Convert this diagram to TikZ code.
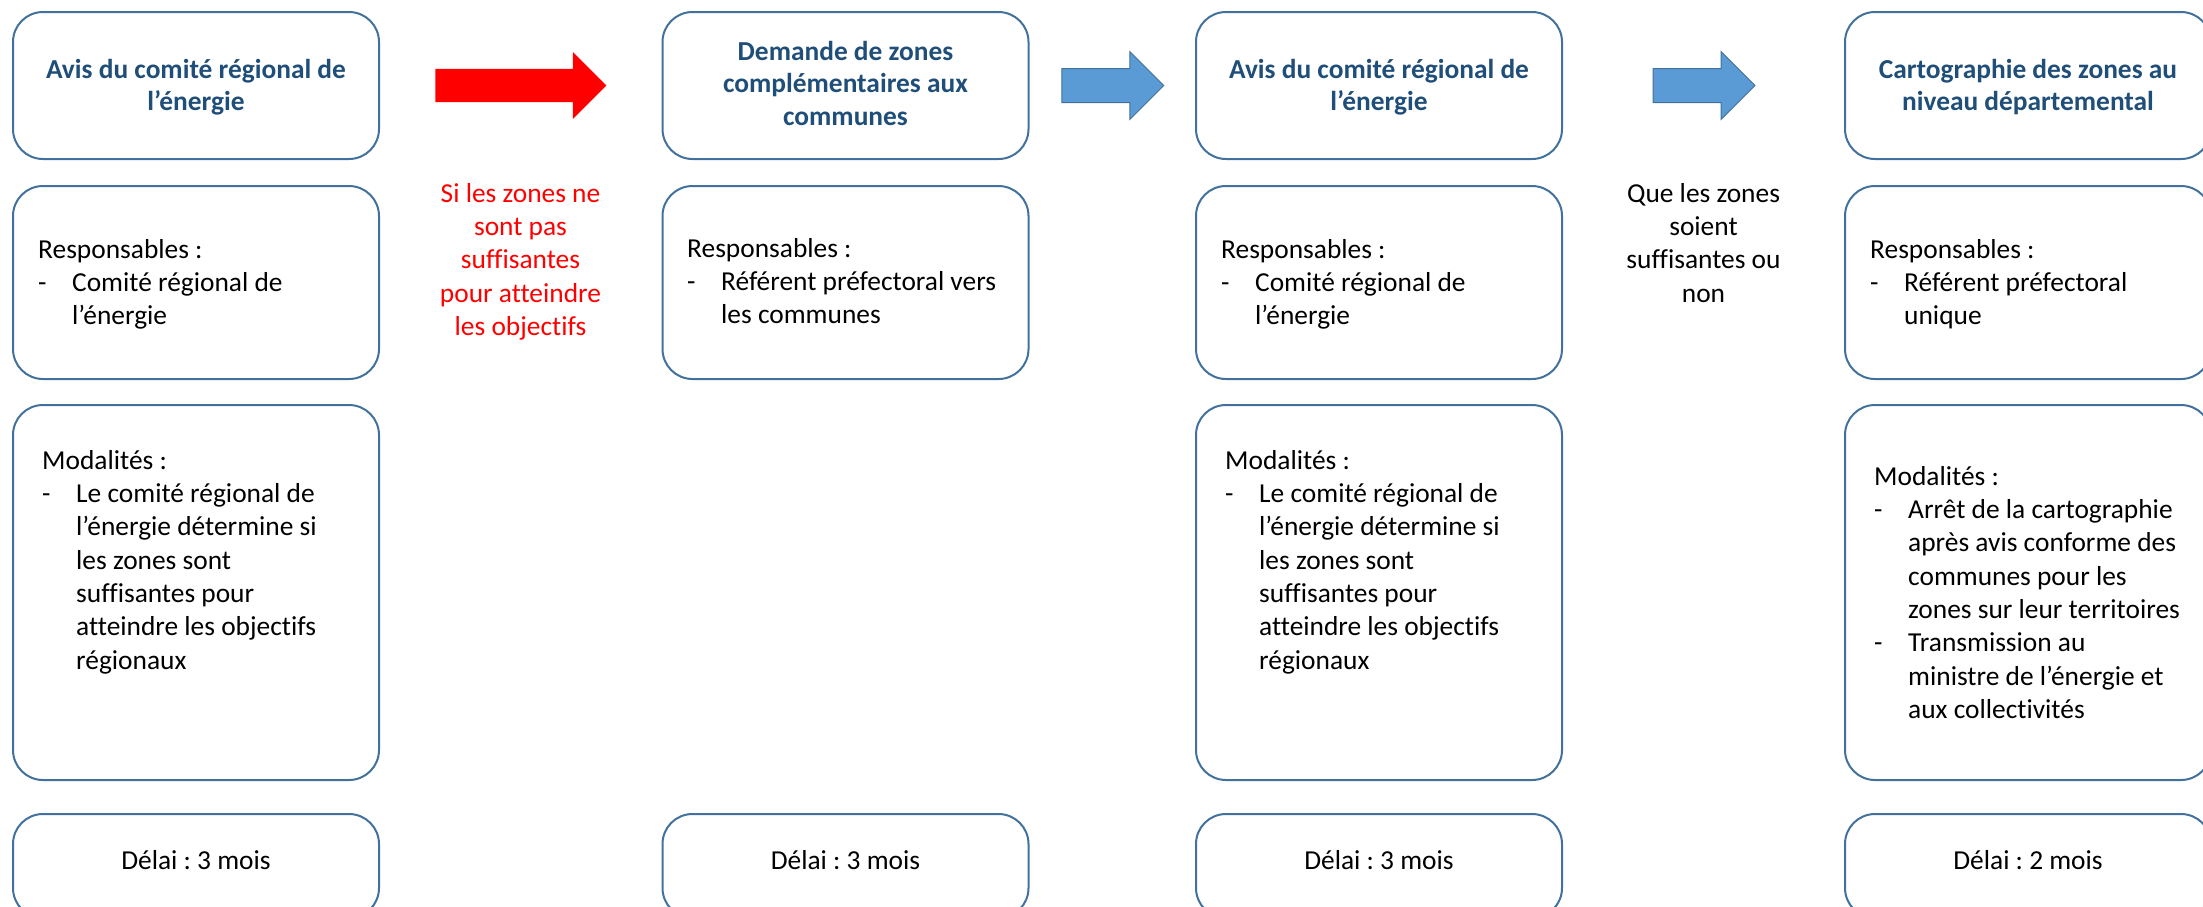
\documentclass[tikz,border=0pt]{standalone}
\usepackage{fontspec}
\setmainfont{Carlito}[Ligatures=NoCommon]
\usetikzlibrary{shapes.arrows,calc}
\frenchspacing

\definecolor{bordure}{HTML}{41719C}
\definecolor{titre}{HTML}{1F4E79}
\definecolor{flechebleue}{HTML}{5B9BD5}
\definecolor{rouge}{HTML}{FF0000}

\newcommand{\tiret}{\makebox[34pt][l]{-}}
\newcommand{\retrait}{\hspace*{34pt}}
\newcommand{\haut}{\rule{0pt}{21pt}}

\tikzset{
  cadre/.style={draw=bordure, line width=2pt, rounded corners=30pt, minimum width=366pt, inner sep=0pt},
  texte/.style={inner sep=0pt, font=\fontsize{27.4pt}{33.3pt}\selectfont, align=left, anchor=north west},
  centre/.style={texte, align=center, anchor=north},
  titrebloc/.style={centre, font=\bfseries\fontsize{27.4pt}{32.5pt}\selectfont, text=titre},
  fleche/.style={single arrow, inner xsep=0pt, inner ysep=16.5pt, single arrow head extend=17pt, anchor=tail}
}

\begin{document}
\begin{tikzpicture}[x=1pt,y=-1pt]
    \useasboundingbox (0,0) rectangle (2203,906);
    % colonne 1
    \node[cadre, minimum height=147pt] (titre1) at (196,85.5) {};
    \node[cadre, minimum height=193pt] (resp1) at (196,282.5) {};
    \node[cadre, minimum height=375pt] (moda1) at (196,592.5) {};
    \node[cadre, minimum height=104pt] (delai1) at (196,866) {};
    \node[titrebloc] (titre1txt) at (196,57) {\haut Avis du comité régional de\\ l’énergie};
    \node[texte] (resp1txt) at (38,237) {\haut Responsables :\\ \tiret Comité régional de\\ \retrait l’énergie};
    \node[texte] (moda1txt) at (42,448) {\haut Modalités :\\ \tiret Le comité régional de\\ \retrait l’énergie détermine si\\ \retrait les zones sont\\ \retrait suffisantes pour\\ \retrait atteindre les objectifs\\ \retrait régionaux};
    \node[centre] (delai1txt) at (196,848) {\haut Délai : 3 mois};
    % colonne 2
    \node[cadre, minimum height=147pt] (titre2) at (845.5,85.5) {};
    \node[cadre, minimum height=193pt] (resp2) at (845.5,282.5) {};
    \node[cadre, minimum height=104pt] (delai2) at (845.5,866) {};
    \node[titrebloc] (titre2txt) at (845.5,39) {\haut Demande de zones\\ complémentaires aux\\ communes};
    \node[texte] (resp2txt) at (687,236) {\haut Responsables :\\ \tiret Référent préfectoral vers\\ \retrait les communes};
    \node[centre] (delai2txt) at (845.5,848) {\haut Délai : 3 mois};
    % colonne 3
    \node[cadre, minimum height=147pt] (titre3) at (1379,85.5) {};
    \node[cadre, minimum height=193pt] (resp3) at (1379,282.5) {};
    \node[cadre, minimum height=375pt] (moda3) at (1379,592.5) {};
    \node[cadre, minimum height=104pt] (delai3) at (1379,866) {};
    \node[titrebloc] (titre3txt) at (1379,57) {\haut Avis du comité régional de\\ l’énergie};
    \node[texte] (resp3txt) at (1221,237) {\haut Responsables :\\ \tiret Comité régional de\\ \retrait l’énergie};
    \node[texte] (moda3txt) at (1225,448) {\haut Modalités :\\ \tiret Le comité régional de\\ \retrait l’énergie détermine si\\ \retrait les zones sont\\ \retrait suffisantes pour\\ \retrait atteindre les objectifs\\ \retrait régionaux};
    \node[centre] (delai3txt) at (1379,848) {\haut Délai : 3 mois};
    % colonne 4
    \node[cadre, minimum height=147pt] (titre4) at (2028,85.5) {};
    \node[cadre, minimum height=193pt] (resp4) at (2028,282.5) {};
    \node[cadre, minimum height=375pt] (moda4) at (2028,592.5) {};
    \node[cadre, minimum height=104pt] (delai4) at (2028,866) {};
    \node[titrebloc] (titre4txt) at (2028,57) {\haut Cartographie des zones au\\ niveau départemental};
    \node[texte] (resp4txt) at (1870,237) {\haut Responsables :\\ \tiret Référent préfectoral\\ \retrait unique};
    \node[texte] (moda4txt) at (1874,464) {\haut Modalités :\\ \tiret Arrêt de la cartographie\\ \retrait après avis conforme des\\ \retrait communes pour les\\ \retrait zones sur leur territoires\\ \tiret Transmission au\\ \retrait ministre de l’énergie et\\ \retrait aux collectivités};
    \node[centre] (delai4txt) at (2028,848) {\haut Délai : 2 mois};
    % fleches
    \node[fleche, fill=rouge, minimum height=171pt, xshift=-85.5pt] (fleche1) at ($(titre1.east)!0.5!(titre2.west)$) {};
    \node[fleche, fill=flechebleue, draw=bordure, line width=1pt, minimum height=102pt, xshift=-51pt] (fleche2) at ($(titre2.east)!0.5!(titre3.west)$) {};
    \node[fleche, fill=flechebleue, draw=bordure, line width=1pt, minimum height=102pt, xshift=-51pt] (fleche3) at ($(titre3.east)!0.5!(titre4.west)$) {};
    \node[centre, text=rouge] (cond1) at (520.5,181) {\haut Si les zones ne\\ sont pas\\ suffisantes\\ pour atteindre\\ les objectifs};
    \node[centre] (cond3) at (1703.5,181) {\haut Que les zones\\ soient\\ suffisantes ou\\ non};
\end{tikzpicture}
\end{document}
